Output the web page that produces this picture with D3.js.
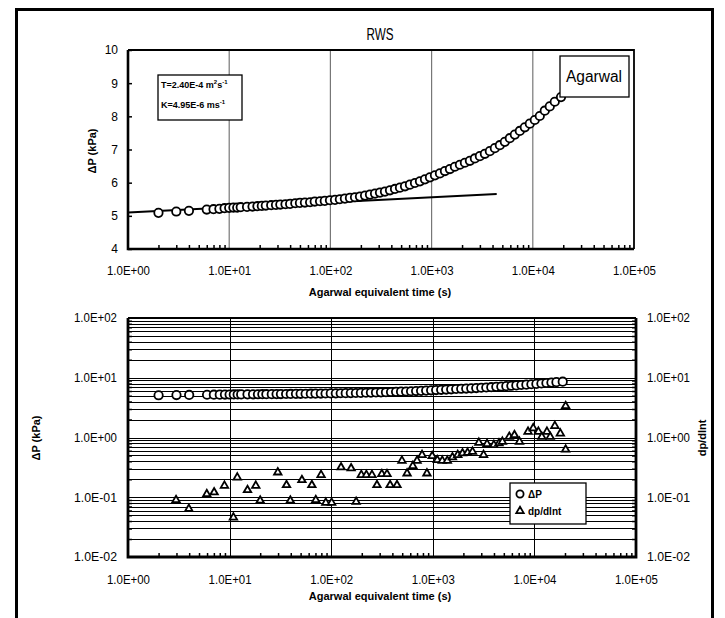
<!DOCTYPE html>
<html>
<head>
<meta charset="utf-8">
<script src="https://cdn.jsdelivr.net/npm/d3@7"></script>
<style>
body{margin:0;background:#fff}
svg{display:block;font-family:"Liberation Sans",Arial,sans-serif}
</style>
</head>
<body>
<div id="chart"></div>
<script>
// values
const timeS = [2,3,4,6,7,8,9,10,11,12,13,15,17,19,21,23,26,29,32,36,40,45,50,56,63,70,79,88,99,111,124,139,156,175,196,220,246,276,309,346,388,435,487,546,611,685,767,860,963,1079,1209,1354,1517,1699,1904,2133,2390,2677,2999,3360,3764,4217,4724,5292,5929,6642,7441,8336,9339,10462,11720,13130,14710,16479,19000];
const deltaP = [5.09,5.13,5.15,5.19,5.20,5.21,5.23,5.24,5.25,5.25,5.26,5.27,5.28,5.29,5.30,5.31,5.32,5.33,5.34,5.35,5.36,5.38,5.39,5.40,5.41,5.43,5.44,5.45,5.47,5.48,5.50,5.52,5.54,5.56,5.58,5.61,5.64,5.67,5.70,5.73,5.77,5.81,5.85,5.89,5.94,5.99,6.04,6.10,6.16,6.22,6.28,6.35,6.41,6.48,6.54,6.60,6.66,6.73,6.80,6.87,6.95,7.04,7.13,7.23,7.34,7.45,7.56,7.67,7.78,7.89,8.01,8.17,8.30,8.44,8.58];

const derivT = [2.97,3.97,5.96,7.04,8.9,10.9,11.9,15.0,18.1,20.0,29.8,36.3,39.6,51.5,64.5,70.5,79.5,88.5,101,125,157,176,198,222,252,282,315,354,380,444,497,558,636,700,784,875,986,1107,1240,1390,1560,1760,1960,2200,2460,2840,3160,3420,3990,4480,4840,5660,6360,7130,8660,9740,10950,11830,13290,14300,15900,18000,20300,20300];
const derivV = [0.090,0.064,0.113,0.121,0.156,0.046,0.215,0.132,0.156,0.088,0.261,0.160,0.088,0.194,0.160,0.090,0.236,0.081,0.081,0.317,0.305,0.084,0.236,0.236,0.236,0.160,0.245,0.245,0.160,0.160,0.409,0.251,0.334,0.409,0.51,0.251,0.49,0.42,0.409,0.409,0.466,0.51,0.544,0.557,0.58,0.82,0.51,0.78,0.75,0.80,0.85,1.03,1.10,0.85,1.25,1.43,1.25,1.03,1.25,1.03,1.56,1.17,3.37,0.63];

// semi-log straight line fit
const fitT = [1, 4400];
const fitP = [5.10, 5.66];

const decades = [1,10,100,1000,10000,100000];
const decadeLabels = ["1.0E+00","1.0E+01","1.0E+02","1.0E+03","1.0E+04","1.0E+05"];
const topYTicks = [4,5,6,7,8,9,10];
const topYLabels = ["4","5","6","7","8","9","10"];
const logYTicks = [0.01,0.1,1,10,100];
const logYLabels = ["1.0E-02","1.0E-01","1.0E+00","1.0E+01","1.0E+02"];

// 2..9 inside each decade
function minors(lo, hi){
  let out=[];
  for(let d=lo; d<hi; d*=10){
    for(let k=2;k<=9;k++) out.push(+(d*k).toPrecision(3));
  }
  return out;
}

// the source chart uses a condensed face; squeeze the E-labels a little
function squeeze(sel){
  sel.selectAll("text").style("font-size","12px").attr("fill","#000")
    .attr("textLength",43).attr("lengthAdjust","spacingAndGlyphs");
}

const svg = d3.select("#chart").append("svg")
  .attr("width",725).attr("height",618);

// outer frame
svg.append("rect")
  .attr("x",16.5).attr("y",9.5).attr("width",696).attr("height",640)
  .attr("fill","none").attr("stroke","#000").attr("stroke-width",3);

svg.append("text").attr("x",366.5).attr("y",40)
  .attr("textLength",27).attr("lengthAdjust","spacingAndGlyphs")
  .style("font-size","16px").text("RWS");

// ---------- top chart ----------
const x1 = d3.scaleLog().domain([1,1e5]).range([128,634]);
const y1 = d3.scaleLinear().domain([4,10]).range([249,50]);

const g1 = svg.append("g");

g1.selectAll(".vgrid").data(decades.slice(1,-1)).enter().append("line")
  .attr("x1",d=>x1(d)).attr("x2",d=>x1(d)).attr("y1",50).attr("y2",249)
  .attr("stroke","#777").attr("stroke-width",1.2);

// minor x ticks
g1.append("g").attr("transform","translate(0,249)")
  .call(d3.axisBottom(x1).tickValues(minors(1,1e5)).tickSizeInner(-4).tickSizeOuter(0).tickFormat(""))
  .call(a=>a.select(".domain").remove())
  .call(a=>a.selectAll("line").attr("stroke-width",1.5));

g1.append("g").attr("transform","translate(-21.5,249)")
  .call(d3.axisBottom(x1).tickValues(decades).tickSize(0).tickPadding(17)
    .tickFormat((d,i)=>decadeLabels[i]))
  .call(a=>a.select(".domain").remove())
  .call(a=>a.selectAll("text").attr("text-anchor","start"))
  .call(squeeze);

g1.append("g").attr("transform","translate(128,0)")
  .call(d3.axisLeft(y1).tickValues(topYTicks).tickSizeInner(-4).tickSizeOuter(0).tickPadding(10)
    .tickFormat((d,i)=>topYLabels[i]))
  .call(a=>a.select(".domain").remove())
  .call(a=>a.selectAll("line").attr("stroke-width",1.5))
  .call(a=>a.selectAll("text").style("font-size","12px").attr("fill","#000"));

// frame of plot area
g1.append("path").attr("d","M128,50H634V249").attr("fill","none").attr("stroke","#000").attr("stroke-width",1.8);
g1.append("path").attr("d","M128,50V249H634").attr("fill","none").attr("stroke","#000").attr("stroke-width",2.6);

// fit line
g1.append("line")
  .attr("x1",x1(fitT[0])).attr("y1",y1(fitP[0]))
  .attr("x2",x1(fitT[1])).attr("y2",y1(fitP[1]))
  .attr("stroke","#000").attr("stroke-width",2);

g1.selectAll(".pt").data(timeS).enter().append("circle")
  .attr("cx",d=>x1(d)).attr("cy",(d,i)=>y1(deltaP[i])).attr("r",4.2)
  .attr("fill","#fff").attr("stroke","#000").attr("stroke-width",1.8);

// parameter box
g1.append("rect").attr("x",158).attr("y",75).attr("width",84).attr("height",45)
  .attr("fill","#fff").attr("stroke","#000").attr("stroke-width",1.3);
const tT = g1.append("text").attr("x",161).attr("y",88).style("font-size","9px").style("font-weight","bold");
tT.append("tspan").text("T=2.40E-4 m");
tT.append("tspan").attr("dy",-4).style("font-size","6px").text("2");
tT.append("tspan").attr("dy",4).text("s");
tT.append("tspan").attr("dy",-4).style("font-size","6px").text("-1");
const tK = g1.append("text").attr("x",161).attr("y",108).style("font-size","9px").style("font-weight","bold");
tK.append("tspan").text("K=4.95E-6 ms");
tK.append("tspan").attr("dy",-4).style("font-size","6px").text("-1");

g1.append("rect").attr("x",560).attr("y",56).attr("width",69).attr("height",41)
  .attr("fill","#fff").attr("stroke","#000").attr("stroke-width",1.3);
g1.append("text").attr("x",566).attr("y",81.5)
  .attr("textLength",56).attr("lengthAdjust","spacingAndGlyphs")
  .style("font-size","16px").text("Agarwal");

g1.append("text").attr("transform","translate(95.5,151) rotate(-90)")
  .attr("text-anchor","middle").style("font-size","11px").style("font-weight","bold").text("ΔP (kPa)");
g1.append("text").attr("x",380).attr("y",296)
  .attr("text-anchor","middle").style("font-size","11px").style("font-weight","bold").text("Agarwal equivalent time (s)");

// ---------- bottom chart ----------
const x2 = d3.scaleLog().domain([1,1e5]).range([128,636]);
const y2 = d3.scaleLog().domain([0.01,100]).range([557,318]);
const g2 = svg.append("g");

const hLines = minors(0.01,100).concat(logYTicks);
g2.selectAll(".hgrid").data(hLines).enter().append("line")
  .attr("x1",128).attr("x2",636).attr("y1",d=>Math.round(y2(d))+0.5).attr("y2",d=>Math.round(y2(d))+0.5)
  .attr("stroke","#000").attr("stroke-width",1);
g2.selectAll(".vgrid").data(decades.slice(1,-1)).enter().append("line")
  .attr("x1",d=>Math.round(x2(d))+0.5).attr("x2",d=>Math.round(x2(d))+0.5).attr("y1",318).attr("y2",557)
  .attr("stroke","#000").attr("stroke-width",1);

g2.append("g").attr("transform","translate(0,557)")
  .call(d3.axisBottom(x2).tickValues(minors(1,1e5)).tickSizeInner(-4).tickSizeOuter(0).tickFormat(""))
  .call(a=>a.select(".domain").remove())
  .call(a=>a.selectAll("line").attr("stroke-width",1.5));
g2.append("g").attr("transform","translate(-21.5,557)")
  .call(d3.axisBottom(x2).tickValues(decades).tickSize(0).tickPadding(18)
    .tickFormat((d,i)=>decadeLabels[i]))
  .call(a=>a.select(".domain").remove())
  .call(a=>a.selectAll("text").attr("text-anchor","start"))
  .call(squeeze);

g2.append("g").attr("transform","translate(128,0)")
  .call(d3.axisLeft(y2).tickValues(minors(0.01,100)).tickSizeInner(-4).tickSizeOuter(0).tickFormat(""))
  .call(a=>a.select(".domain").remove())
  .call(a=>a.selectAll("line").attr("stroke-width",1.5));
g2.append("g").attr("transform","translate(74,0)")
  .call(d3.axisLeft(y2).tickValues(logYTicks).tickSize(0).tickPadding(0)
    .tickFormat((d,i)=>logYLabels[i]))
  .call(a=>a.select(".domain").remove())
  .call(a=>a.selectAll("text").attr("text-anchor","start"))
  .call(squeeze);
g2.append("g").attr("transform","translate(636,0)")
  .call(d3.axisRight(y2).tickValues(minors(0.01,100)).tickSizeInner(-4).tickSizeOuter(0).tickFormat(""))
  .call(a=>a.select(".domain").remove())
  .call(a=>a.selectAll("line").attr("stroke-width",1.5));
g2.append("g").attr("transform","translate(636,0)")
  .call(d3.axisRight(y2).tickValues(logYTicks).tickSize(0).tickPadding(11)
    .tickFormat((d,i)=>logYLabels[i]))
  .call(a=>a.select(".domain").remove())
  .call(squeeze);

g2.append("path").attr("d","M128,318H636").attr("fill","none").attr("stroke","#000").attr("stroke-width",1.8);
g2.append("path").attr("d","M128,318V557H636V318").attr("fill","none").attr("stroke","#000").attr("stroke-width",2.8);

g2.selectAll(".pt").data(timeS).enter().append("circle")
  .attr("cx",d=>x2(d)).attr("cy",(d,i)=>y2(deltaP[i])).attr("r",4.2)
  .attr("fill","#fff").attr("stroke","#000").attr("stroke-width",1.8);

const tri = d3.symbol().type(d3.symbolTriangle).size(24);
g2.selectAll(".tri").data(derivT).enter().append("path")
  .attr("d",tri)
  .attr("transform",(d,i)=>"translate("+x2(d)+","+y2(derivV[i])+")")
  .attr("fill","#fff").attr("stroke","#000").attr("stroke-width",1.8);

// legend
const lg = g2.append("g");
lg.append("rect").attr("x",510).attr("y",483).attr("width",76).attr("height",41)
  .attr("fill","#fff").attr("stroke","#000").attr("stroke-width",1.3);
lg.append("circle").attr("cx",520).attr("cy",494).attr("r",3.6)
  .attr("fill","#fff").attr("stroke","#000").attr("stroke-width",1.8);
lg.append("path").attr("d",tri).attr("transform","translate(520,511)")
  .attr("fill","#fff").attr("stroke","#000").attr("stroke-width",1.8);
lg.append("text").attr("x",528).attr("y",497.5).style("font-size","10px").style("font-weight","bold").text("ΔP");
lg.append("text").attr("x",528).attr("y",515).style("font-size","10px").style("font-weight","bold").text("dp/dlnt");

g2.append("text").attr("transform","translate(40,438) rotate(-90)")
  .attr("text-anchor","middle").style("font-size","11px").style("font-weight","bold").text("ΔP (kPa)");
g2.append("text").attr("transform","translate(706,438) rotate(-90)")
  .attr("text-anchor","middle").style("font-size","11px").style("font-weight","bold").text("dp/dlnt");
g2.append("text").attr("x",380).attr("y",600)
  .attr("text-anchor","middle").style("font-size","11px").style("font-weight","bold").text("Agarwal equivalent time (s)");
</script>
</body>
</html>
